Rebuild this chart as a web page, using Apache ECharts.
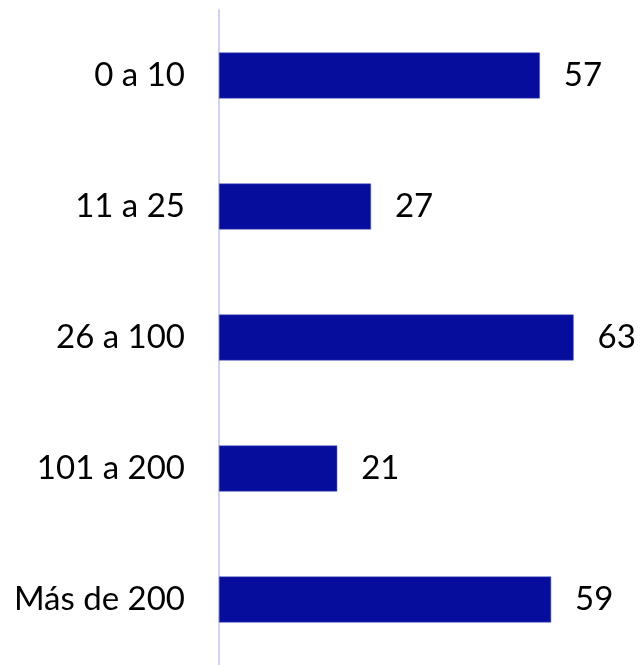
<!DOCTYPE html>
<html>
<head>
<meta charset="utf-8">
<script src="https://cdn.jsdelivr.net/npm/echarts@6/dist/echarts.min.js"></script>
<style>
  html, body { margin: 0; padding: 0; background: #ffffff; }
  #chart { width: 641px; height: 665px; }
</style>
</head>
<body>
<div id="chart"></div>
<script>
// categorías (de arriba hacia abajo) y valores
const categories = ['0 a 10', '11 a 25', '26 a 100', '101 a 200', 'Más de 200']
const values = [57, 27, 63, 21, 59]

const chart = echarts.init(document.getElementById('chart'), null, {renderer: 'canvas'})

const option = {
  backgroundColor: '#ffffff',
  animation: false,
  grid: {
    left: 219,
    right: 28,
    top: 10,
    bottom: -3,
    containLabel: false,
  },
  xAxis: {
    type: 'value',
    min: 0,
    max: 70,
    show: false,
  },
  yAxis: {
    type: 'category',
    inverse: true,
    data: categories,
    axisTick: {show: false},
    axisLine: {
      show: true,
      lineStyle: {color: '#d0d0fa', width: 2},
    },
    axisLabel: {
      margin: 34,
      fontFamily: 'Lato',
      fontSize: 33,
      color: '#000000',
    },
  },
  series: [
    {
      type: 'bar',
      data: values,
      barWidth: '35%',
      itemStyle: {
        color: '#060c9b',
        borderColor: '#4a4fc0',
        borderWidth: 0.5,
      },
      label: {
        show: true,
        position: 'right',
        distance: 24,
        fontFamily: 'Lato',
        fontSize: 33,
        color: '#000000',
      },
    },
  ],
}

chart.setOption(option)
</script>
</body>
</html>
